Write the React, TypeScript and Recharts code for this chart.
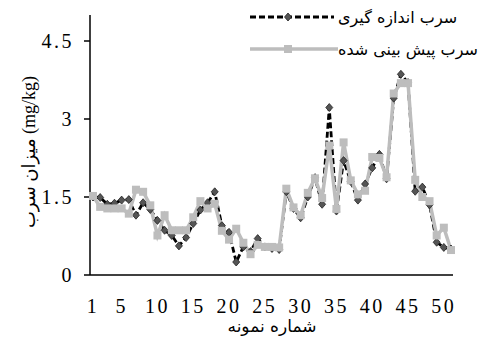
import React from 'react'
import { LineChart, Line, XAxis, YAxis, Label } from 'recharts'

// sample numbers along the x axis
const sampleNo = [
  1, 2, 3, 4, 5, 6, 7, 8, 9, 10, 11, 12, 13, 14, 15, 16, 17, 18, 19, 20, 21, 22, 23, 24, 25,
  26, 27, 28, 29, 30, 31, 32, 33, 34, 35, 36, 37, 38, 39, 40, 41, 42, 43, 44, 45, 46, 47, 48, 49, 50, 51
]

// measured lead (mg/kg)
const measuredLead = [
  1.5, 1.49, 1.36, 1.38, 1.44, 1.45, 1.15, 1.39, 1.26, 1.05, 0.86, 0.76, 0.56, 0.72, 0.99, 1.25, 1.39,
  1.6, 0.95, 0.82, 0.25, 0.54, 0.45, 0.7, 0.54, 0.51, 0.49, 1.6, 1.28, 1.1, 1.5, 1.87, 1.36, 3.22,
  1.23, 2.2, 1.8, 1.44, 1.75, 2.06, 2.32, 1.85, 3.4, 3.86, 3.7, 1.61, 1.69, 1.35, 0.63, 0.53, 0.5
]

// predicted lead (mg/kg)
const predictedLead = [
  1.52, 1.31, 1.28, 1.28, 1.28, 1.18, 1.64, 1.6, 1.34, 0.76, 1.15, 0.86, 0.86, 0.86, 1.11, 1.42, 1.28,
  1.37, 0.85, 0.68, 0.89, 0.62, 0.4, 0.58, 0.54, 0.54, 0.53, 1.66, 1.3, 1.15, 1.58, 1.86, 1.48, 2.49,
  1.27, 2.55, 1.82, 1.55, 1.62, 2.27, 2.25, 1.88, 3.49, 3.69, 3.69, 1.83, 1.5, 1.42, 0.76, 0.91, 0.48
]

const xTicks = [1, 5, 10, 15, 20, 25, 30, 35, 40, 45, 50]
const yTicks = [0, 1.5, 3, 4.5]

const measuredName = 'سرب اندازه گیری'
const predictedName = 'سرب پیش بینی شده'
const xTitle = 'شماره نمونه'
const yTitle = 'میزان سرب (mg/kg)'

const data = sampleNo.map((n, i) => ({
  n,
  measured: measuredLead[i],
  predicted: predictedLead[i]
}))

const tickStyle = { fill: '#000', fontSize: 20, fontFamily: 'Liberation Serif', letterSpacing: 2.5 }

const Diamond = (props: any) => {
  const { cx, cy, index } = props
  if (cx == null || cy == null) return <g key={`m-${index}`} />
  return (
    <path
      key={`m-${index}`}
      d={`M${cx},${cy - 4}L${cx + 3.5},${cy}L${cx},${cy + 4}L${cx - 3.5},${cy}Z`}
      fill="#555"
      stroke="#222"
      strokeWidth={0.8}
    />
  )
}

const Square = (props: any) => {
  const { cx, cy, index } = props
  if (cx == null || cy == null) return <g key={`p-${index}`} />
  return <rect key={`p-${index}`} x={cx - 4} y={cy - 4} width={8} height={8} fill="#bdbdbd" />
}

// legend drawn on top of the plot, like the original
const ChartLegend = () => (
  <div
    style={{
      position: 'absolute',
      top: 1,
      left: 246,
      width: 237,
      fontFamily: 'DejaVu Sans',
      fontSize: 16,
      color: '#000'
    }}
  >
    <div style={{ display: 'flex', alignItems: 'center', height: 32 }}>
      <svg width={92} height={14}>
        <line x1={4} y1={7} x2={88} y2={7} stroke="#000" strokeWidth={2.8} strokeDasharray="6 3" />
        <path d="M42,3L45.5,7L42,11L38.5,7Z" fill="#555" stroke="#222" strokeWidth={0.8} />
      </svg>
      <span style={{ whiteSpace: 'nowrap' }}>{measuredName}</span>
    </div>
    <div style={{ display: 'flex', alignItems: 'center', height: 32 }}>
      <svg width={92} height={14}>
        <line x1={4} y1={7} x2={92} y2={7} stroke="#bdbdbd" strokeWidth={3.5} />
        <rect x={38} y={3} width={8} height={8} fill="#bdbdbd" />
      </svg>
      <span style={{ whiteSpace: 'nowrap' }}>{predictedName}</span>
    </div>
  </div>
)

export default function App() {
  return (
    <div style={{ position: 'absolute', left: 0, top: 0, width: 483, height: 337, background: '#fff' }}>
      <LineChart width={483} height={337} data={data} margin={{ top: 15, right: 30, bottom: 32, left: 0 }}>
        <XAxis
          dataKey="n"
          type="number"
          domain={[1, 51]}
          ticks={xTicks}
          padding={{ left: 3, right: 2 }}
          tickLine={false}
          tickSize={6}
          tickMargin={18}
          axisLine={{ stroke: '#000', strokeWidth: 1.5 }}
          tick={tickStyle}
          height={30}
          interval={0}
        >
          <Label
            content={() => (
              <text x={272} y={326} textAnchor="middle" dominantBaseline="central" fontSize={17} fontFamily="DejaVu Sans" fill="#000">
                {xTitle}
              </text>
            )}
          />
        </XAxis>
        <YAxis
          type="number"
          domain={[0, 5]}
          ticks={yTicks}
          width={90}
          tickSize={6}
          tickMargin={10}
          axisLine={{ stroke: '#000', strokeWidth: 1.5 }}
          tickLine={{ stroke: '#000', strokeWidth: 1.5 }}
          tick={tickStyle}
          interval={0}
        >
          <Label
            content={() => (
              <text
                x={29}
                y={152}
                transform="rotate(-90, 29, 152)"
                textAnchor="middle"
                dominantBaseline="central"
                fontSize={18}
                fontFamily="Liberation Serif, DejaVu Sans"
                fill="#000"
              >
                {yTitle}
              </text>
            )}
          />
        </YAxis>
        <Line
          dataKey="measured"
          name={measuredName}
          type="linear"
          stroke="#000"
          strokeWidth={2.8}
          strokeDasharray="6 3"
          dot={Diamond}
          activeDot={false}
          isAnimationActive={false}
        />
        <Line
          dataKey="predicted"
          name={predictedName}
          type="linear"
          stroke="#bdbdbd"
          strokeWidth={3.5}
          dot={Square}
          activeDot={false}
          isAnimationActive={false}
        />
      </LineChart>
      <ChartLegend />
    </div>
  )
}
